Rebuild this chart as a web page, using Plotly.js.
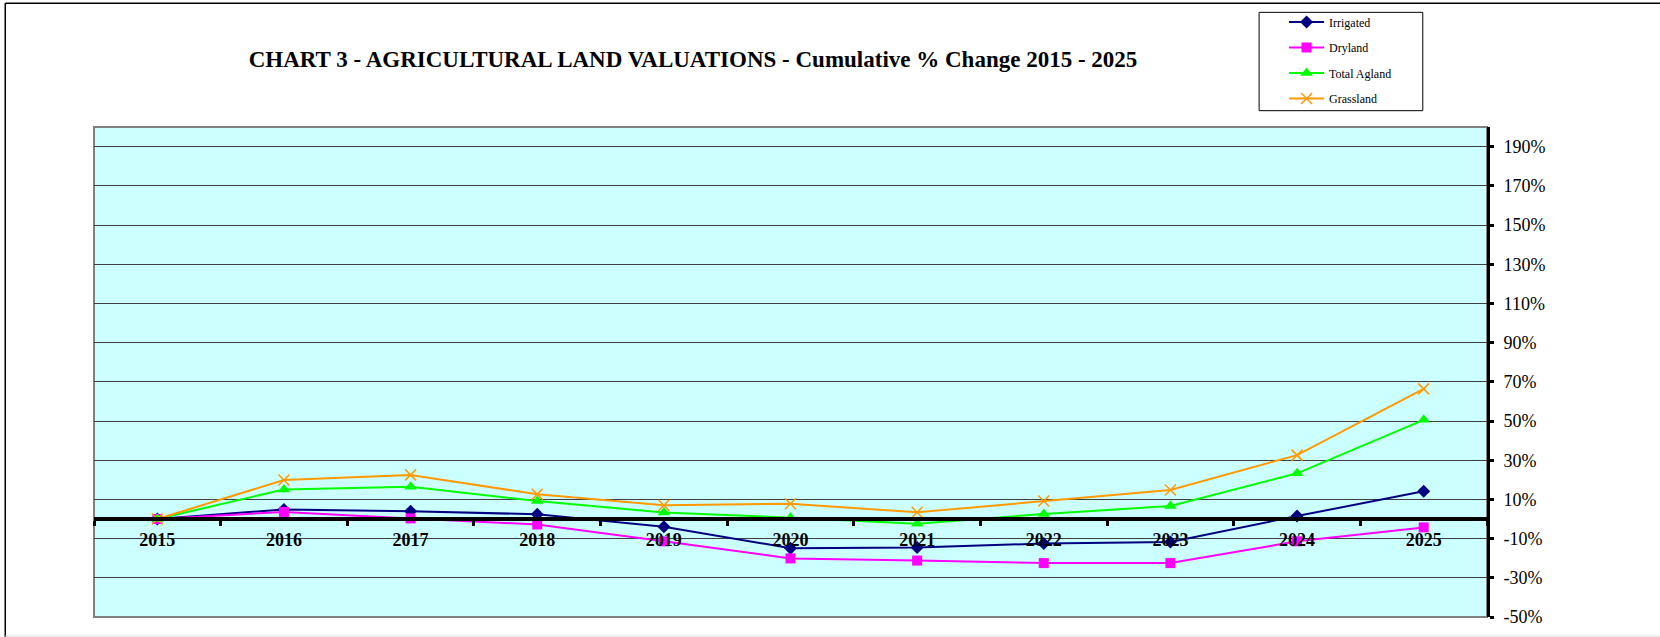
<!DOCTYPE html>
<html>
<head>
<meta charset="utf-8">
<script src="https://cdn.plot.ly/plotly-3.0.1.min.js"></script>
<style>html,body{margin:0;padding:0;background:#fff;}#chart{width:1660px;height:637px;}</style>
</head>
<body>
<div id="chart"></div>
<script>
const years = ['2015','2016','2017','2018','2019','2020','2021','2022','2023','2024','2025'];
const irrigated = [0.000, 0.049, 0.040, 0.024, -0.039, -0.149, -0.146, -0.125, -0.117, 0.015, 0.142];
const dryland   = [0.000, 0.036, 0.003, -0.028, -0.114, -0.201, -0.212, -0.225, -0.225, -0.114, -0.043];
const totalAgland = [0.000, 0.151, 0.165, 0.092, 0.033, 0.007, -0.024, 0.026, 0.066, 0.233, 0.506];
const grassland = [0.000, 0.199, 0.225, 0.126, 0.070, 0.078, 0.034, 0.092, 0.148, 0.326, 0.664];

const yTickVals = [-0.5, -0.3, -0.1, 0.1, 0.3, 0.5, 0.7, 0.9, 1.1, 1.3, 1.5, 1.7, 1.9];
const yTickLabels = ['-50%','-30%','-10%','10%','30%','50%','70%','90%','110%','130%','150%','170%','190%'];

const seriesNames = ['Irrigated','Dryland','Total Agland','Grassland'];
const serif = 'Liberation Serif, Times New Roman, serif';

function tr(name, y, color, symbol, size, group) {
  return {
    type: 'scatter', mode: 'lines+markers', name: name, x: years, y: y,
    legendgroup: group,
    line: {color: color, width: 2},
    marker: {symbol: symbol, size: size, color: color, line: {color: color, width: symbol === 'x-thin-open' ? 1.5 : 0}}
  };
}

const data = [
  tr(seriesNames[0], irrigated, '#000080', 'diamond', 10, 'g1'),
  tr(seriesNames[1], dryland, '#FF00FF', 'square', 10, 'g2'),
  tr(seriesNames[2], totalAgland, '#00FF00', 'triangle-up', 11, 'g3'),
  tr(seriesNames[3], grassland, '#FF9900', 'x-thin-open', 11, 'g4')
];

const layout = {
  width: 1660, height: 637,
  margin: {l: 94, r: 173, t: 127, b: 20, autoexpand: false},
  paper_bgcolor: '#ffffff',
  plot_bgcolor: '#CCFFFF',
  font: {family: serif, color: '#000'},
  title: {
    text: '<b>CHART 3 - AGRICULTURAL LAND VALUATIONS - Cumulative % Change 2015 - 2025</b>',
    font: {family: serif, size: 23, color: '#000'},
    xref: 'paper', x: 0.43, xanchor: 'center',
    yref: 'container', y: 0.907, yanchor: 'middle'
  },
  showlegend: true,
  legend: {
    x: 0.8543, y: 1.2438, xanchor: 'left', yanchor: 'top',
    bgcolor: 'rgba(0,0,0,0)', borderwidth: 0,
    font: {family: serif, size: 12, color: '#000'},
    tracegroupgap: 6.5, itemwidth: 35
  },
  xaxis: {
    type: 'category', range: [-0.5, 10.5],
    anchor: 'free', position: 0.2,
    showline: true, linecolor: '#000', linewidth: 4,
    showgrid: false, zeroline: false,
    ticks: 'outside', tickson: 'boundaries', ticklen: 5, tickwidth: 3, tickcolor: '#000',
    tickfont: {family: serif, size: 18, color: '#000', weight: 'bold'},
    ticklabelstandoff: 3,
    fixedrange: true
  },
  yaxis: {
    side: 'right', range: [-0.5, 2.0],
    tickmode: 'array', tickvals: yTickVals, ticktext: yTickLabels,
    showline: true, linecolor: '#000', linewidth: 3,
    ticks: 'outside', ticklen: 4, tickwidth: 3, tickcolor: '#000',
    showgrid: true, gridcolor: '#404040', gridwidth: 1,
    zeroline: false,
    tickfont: {family: serif, size: 18, color: '#000'},
    ticklabelstandoff: 6,
    fixedrange: true
  },
  shapes: [
    {type: 'rect', xref: 'paper', yref: 'paper', x0: 0, x1: 1, y0: 0, y1: 1, line: {color: '#808080', width: 2}, layer: 'below'},
    {type: 'line', xref: 'paper', yref: 'paper', x0: -0.0637, x1: -0.0637, y0: -0.05, y1: 1.2524, line: {color: '#000', width: 1.5}},
    {type: 'line', xref: 'paper', yref: 'paper', x0: -0.0637, x1: 1.2, y0: 1.2524, y1: 1.2524, line: {color: '#000', width: 1.5}},
    {type: 'line', xref: 'paper', yref: 'paper', x0: -0.0637, x1: 1.2, y0: -0.0388, y1: -0.0388, line: {color: '#d9d9d9', width: 1}},
    {type: 'rect', xref: 'paper', yref: 'paper', x0: 0.8364, x1: 0.9539, y0: 1.0333, y1: 1.2340, line: {color: '#000', width: 1}}
  ]
};

Plotly.newPlot('chart', data, layout, {staticPlot: true, displayModeBar: false});
</script>
</body>
</html>
